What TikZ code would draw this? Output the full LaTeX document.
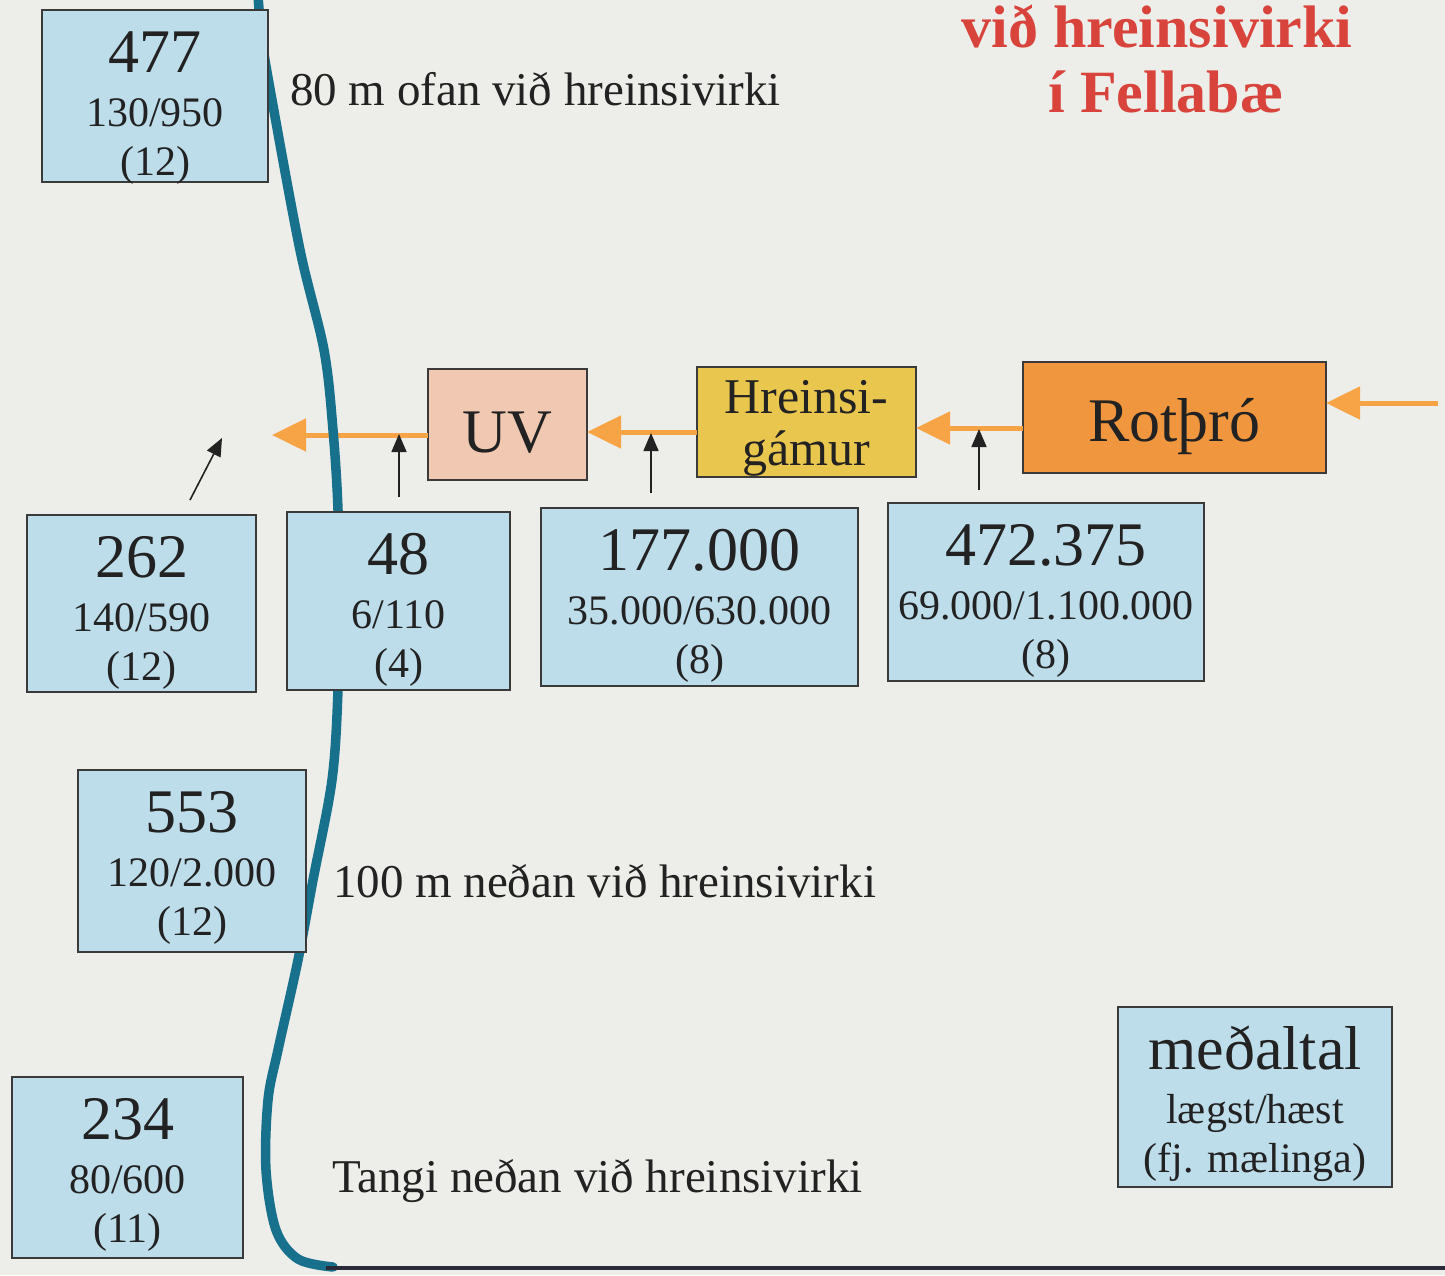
\documentclass[tikz,border=0pt]{standalone}
\usepackage{fontspec}
\setmainfont{Liberation Serif}
\usetikzlibrary{arrows.meta,calc}
\definecolor{bg}{HTML}{EDEDE9}
\definecolor{boxblue}{HTML}{BEDDEA}
\definecolor{uvpeach}{HTML}{F1C9B2}
\definecolor{hgyellow}{HTML}{E9C64E}
\definecolor{rotorange}{HTML}{F0963E}
\definecolor{flowor}{HTML}{F6A445}
\definecolor{rivercol}{HTML}{17708C}
\definecolor{ink}{HTML}{222222}
\definecolor{titlered}{HTML}{D8443C}
\definecolor{edgecol}{HTML}{3A3A3A}
\definecolor{bottomcol}{HTML}{2A2A38}
\newcommand\fsz[1]{\fontsize{#1}{#1}\selectfont}
% name, x, y, w, h, big, mid, small
\newcommand\databox[8]{%
  \node[databox, minimum width=#4pt, minimum height=#5pt] (#1) at (#2,#3) {};
  \node[anchor=base, font=\fsz{62}] (#1-a) at ($(#1.north)+(0,62)$) {#6};
  \node[anchor=base, font=\fsz{42}] (#1-b) at ($(#1.north)+(0,116)$) {#7};
  \node[anchor=base, font=\fsz{42}] (#1-c) at ($(#1.north)+(0,165)$) {#8};
}
\begin{document}
\begin{tikzpicture}[x=1pt,y=-1pt,
  every node/.style={inner sep=0pt, outer sep=0pt, text=ink},
  databox/.style={draw=edgecol, line width=1.3pt, fill=boxblue, anchor=north west},
  stagebox/.style={draw=edgecol, line width=1.3pt, anchor=north west},
  flow/.style={draw=flowor, line width=5pt, -{Triangle[length=34pt,width=32pt]}},
  sample/.style={draw=ink, line width=1.6pt, -{Triangle[length=18pt,width=15pt]}},
  label/.style={anchor=base west, font=\fsz{47}},
  titletext/.style={anchor=base, font=\fsz{60}\bfseries, text=titlered}]
\useasboundingbox (0,0) rectangle (1445,1275);
\fill[bg] (0,0) rectangle (1445,1275);

% title
\node[titletext] (title1) at (1157,47) {við hreinsivirki};
\node[titletext] (title2) at (1166,112) {í Fellabæ};

% process stages
\node[stagebox, fill=uvpeach, minimum width=159pt, minimum height=111pt] (uv) at (428,369) {};
\node[anchor=base, font=\fsz{62}] (uv-t) at ($(uv.north)+(0,83)$) {UV};
\node[stagebox, fill=hgyellow, minimum width=219pt, minimum height=110pt] (hg) at (697,367) {};
\node[stagebox, fill=rotorange, minimum width=303pt, minimum height=111pt] (rot) at (1023,362) {};
\node[anchor=base, font=\fsz{62}] (rot-t) at ($(rot.north)+(0,79)$) {Rotþró};

% flow arrows
\coordinate (inflow) at (1438,403);
\coordinate (f2) at (0,428);
\coordinate (f3) at (0,432);
\coordinate (outflow) at (272,435);
\draw[flow] (inflow) -- (rot.east |- inflow);
\draw[flow] (rot.west |- f2) -- (hg.east |- f2);
\draw[flow] (hg.west |- f3) -- (uv.east |- f3);
\draw[flow] (uv.west |- outflow) -- (outflow);

% river
\draw[rivercol, line width=9.5pt, line cap=round] plot[smooth, tension=0.55] coordinates {
  (258,-5) (262,40) (272,100) (300,250) (324,350) (333,430) (338,510)
  (339,600) (338,690) (332,780) (313,880) (298,960) (278,1050)
  (268,1100) (266,1170) (276,1230) (298,1259) (333,1267)};
\draw[bottomcol, line width=3.5pt] (326,1268) -- (1445,1268);

% text in Hreinsigamur (over the box)
\node[anchor=base, font=\fsz{50}] (hg-a) at ($(hg.north)+(0,46)$) {Hreinsi-};
\node[anchor=base, font=\fsz{50}] (hg-b) at ($(hg.north)+(0,98)$) {gámur};

% data boxes
\databox{b477}{42}{10}{226}{172}{477}{130/950}{(12)}
\databox{b262}{27}{515}{229}{177}{262}{140/590}{(12)}
\databox{b48}{287}{512}{223}{178}{48}{6/110}{(4)}
\databox{b177}{541}{508}{317}{178}{177.000}{35.000/630.000}{(8)}
\databox{b472}{888}{503}{316}{178}{472.375}{69.000/1.100.000}{(8)}
\databox{b553}{78}{770}{228}{182}{553}{120/2.000}{(12)}
\databox{b234}{12}{1077}{231}{181}{234}{80/600}{(11)}
\databox{legend}{1118}{1007}{274}{180}{meðaltal}{lægst/hæst}{(fj. mælinga)}

% sample arrows
\coordinate (s262) at (190,500); \coordinate (t262) at (222,438);
\coordinate (s48) at (399,497);  \coordinate (t48) at (399,434);
\coordinate (s177) at (651,493); \coordinate (t177) at (651,433);
\coordinate (s472) at (979,490); \coordinate (t472) at (979,429);
\draw[sample] (s262) -- (t262);
\draw[sample] (s48) -- (t48);
\draw[sample] (s177) -- (t177);
\draw[sample] (s472) -- (t472);

% location labels
\node[label] (lab1) at (290,105) {80 m ofan við hreinsivirki};
\node[label] (lab2) at (333,897) {100 m neðan við hreinsivirki};
\node[label] (lab3) at (332,1192) {Tangi neðan við hreinsivirki};
\end{tikzpicture}
\end{document}
